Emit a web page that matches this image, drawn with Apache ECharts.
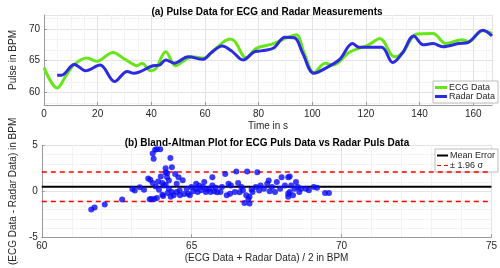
<!DOCTYPE html>
<html><head><meta charset="utf-8">
<script src="https://cdn.jsdelivr.net/npm/echarts@6/dist/echarts.min.js"></script>
<style>html,body{margin:0;padding:0;background:#fff}#c{width:500px;height:268px}</style>
</head><body><div id="c"></div>
<script>
// (a) Pulse data
const ecgTime  = [0,4.9,8.3,11.3,16,19.6,25.7,29.8,31.7,34.6,36.5,39.7,41.6,45.4,49,52.6,55,59.8,63.4,69.4,71.2,75.4,79,85,91,94,97,100.6,104.8,107.8,113.8,121,125.2,130.6,133.6,139,145,149.8,155.8,158.2,163.6,167];
const ecgPulse = [63.9,60.7,62.7,64.4,65.4,64.9,66.3,65.3,64.8,64.2,64.6,63.4,63.7,66.4,64.2,65.1,65.6,65.4,66.7,68.4,68.0,65.4,66.9,67.6,68.7,69.1,66.2,63.1,64.6,64.3,66.3,67.5,68.5,65.6,66.2,69.2,69.3,67.7,68.3,68.0,69.7,69.3];
const radarTime  = [4.9,6.5,11.3,15.5,20.9,26.3,31,33.5,40.6,43,45.4,48.5,53.8,59.2,62.2,66.4,70,74.2,78.4,80.2,85.6,89.8,93.4,96.4,100.6,105.4,110.2,115,117.4,125.8,130,133.6,137.8,141.4,145,148.6,154.6,158.2,163.6,167];
const radarPulse = [62.7,62.7,64.4,63.4,64.3,61.7,63.3,63.0,64.2,64.3,65.1,64.6,65.6,65.2,66.2,67.3,66.5,65.1,66.4,66.5,67.0,68.7,68.6,66.2,63.0,63.9,65.2,67.7,67.1,67.1,64.7,66.2,68.9,67.5,67.7,67.2,67.7,67.9,69.8,68.9];
const topXTicks = [0,20,40,60,80,100,120,140,160];
const topYTicks = [60,65,70];

// (b) Bland-Altman
const baMean = [61.65,61.76,62.1,62.68,63.02,63.1,63.27,63.41,63.62,63.65,63.7,63.73,63.78,63.84,63.95,63.7,63.75,63.8,63.84,63.88,63.91,63.97,64.02,64.02,64.07,64.13,64.13,64.13,64.18,64.18,64.2,64.24,64.24,64.29,64.34,64.34,64.4,64.45,64.5,64.5,64.56,64.61,64.7,64.83,64.88,64.94,64.99,65.15,65.15,65.2,65.31,65.37,65.42,65.47,65.58,65.69,65.69,65.63,65.8,65.96,66.01,66.12,66.17,66.23,66.28,66.31,66.44,66.49,66.66,66.71,66.76,66.82,66.85,66.89,66.93,66.93,67.03,67.14,67.19,67.3,67.41,67.52,67.57,67.68,67.78,67.84,67.95,68.0,68.11,68.22,68.27,68.27,68.22,68.22,68.32,68.38,68.43,68.48,68.54,68.59,68.65,68.81,68.91,69.07,69.18,69.45,69.58,63.55,63.6,64.05,64.3,64.6,64.75,65.05,65.25,65.5,65.75,65.85,66.55,66.6,67.0,67.25,67.6];
const baDiff = [-1.97,-1.75,-1.43,-0.9,0.26,0.1,0.45,0.18,1.26,-0.82,4.14,3.55,4.55,4.6,4.6,0.9,-0.82,0.54,-0.71,1.08,0.18,1.62,-0.36,0.9,0.65,2.52,2.05,0.72,1.98,1.55,-0.17,1.19,0.29,3.65,2.63,-0.07,-0.43,1.9,0.83,-0.07,1.55,-0.43,1.2,0.29,-0.25,-0.43,0.47,0.83,0.29,-0.07,0.11,0.47,1.01,-0.07,0.29,1.55,0.65,-0.07,0.4,-0.07,0.47,1.9,-0.43,0.83,-0.25,0.65,-0.07,2.16,0.47,0.11,-1.26,-0.43,2.16,-0.82,-1.33,-0.6,-0.07,0.47,2.09,0.65,0.29,0.83,1.19,0.47,-0.07,1.01,0.29,1.55,0.65,1.55,1.62,-0.07,-0.6,-0.25,0.65,-0.43,0.29,1.01,0.47,-0.07,0.29,0.29,0.11,0.47,0.4,-0.17,-0.17,1.4,-0.85,-0.5,-0.6,0.1,-0.3,0.0,0.6,0.2,0.0,-0.1,0.9,-0.1,0.2,0.1,0.0];
const meanError = 0.5;
const loaUpper = 2.12;
const loaLower = -1.11;
const baXRange = [60, 75];

const FONT = 'Liberation Sans';
const TXT = '#262626';
const ecgSeries = ecgTime.map((t, i) => [t, ecgPulse[i]]);
const radarSeries = radarTime.map((t, i) => [t, radarPulse[i]]);
const baSeries = baMean.map((m, i) => [m, baDiff[i]]);

function axisCommon(extra) {
  return Object.assign({
    axisLine: { show: true, onZero: false, lineStyle: { color: '#9a9a9a', width: 1 } },
    axisTick: { show: true, inside: true, length: 3, lineStyle: { color: '#9a9a9a' } },
    axisLabel: { color: TXT, fontFamily: FONT, fontSize: 10, margin: 4 },
    splitLine: { show: true, lineStyle: { color: '#e3e3e3', width: 1 } },
    minorTick: { show: false },
    minorSplitLine: { show: true, lineStyle: { color: '#f3f3f3', width: 1 } },
    nameLocation: 'middle',
    nameTextStyle: { color: TXT, fontFamily: FONT, fontSize: 10 }
  }, extra);
}

const chart = echarts.init(document.getElementById('c'), null, { renderer: 'canvas' });
chart.setOption({
  animation: false,
  backgroundColor: '#fff',
  title: [
    { text: '(a) Pulse Data for ECG and Radar Measurements', left: 262, top: 2, textAlign: 'center',
      textStyle: { fontFamily: FONT, fontSize: 10, fontWeight: 'bold', color: '#000' } },
    { text: '(b) Bland-Altman Plot for ECG Puls Data vs Radar Puls Data', left: 262, top: 133, textAlign: 'center',
      textStyle: { fontFamily: FONT, fontSize: 10, fontWeight: 'bold', color: '#000' } }
  ],
  grid: [
    { left: 27, right: 8, top: 15, bottom: 163 },
    { left: 27, right: 8, top: 145.5, bottom: 29.7 }
  ],
  xAxis: [
    axisCommon({ gridIndex: 0, type: 'value', min: 0, max: 167, splitNumber: 8, name: 'Time in s', nameGap: 16,
      minorTick: { show: false, splitNumber: 4 },
      axisLabel: { color: TXT, fontFamily: FONT, fontSize: 10, margin: 4, showMaxLabel: false,
        formatter: v => topXTicks.includes(v) ? String(v) : '' } }),
    axisCommon({ gridIndex: 1, type: 'value', min: baXRange[0], max: baXRange[1], interval: 5,
      name: '(ECG Data + Radar Data) / 2 in BPM', nameGap: 16,
      minorTick: { show: false, splitNumber: 5 } })
  ],
  yAxis: [
    axisCommon({ gridIndex: 0, type: 'value', min: 58, max: 72.2, splitNumber: 3, name: 'Pulse in BPM', nameGap: 14,
      minorTick: { show: false, splitNumber: 3 },
      axisLabel: { color: TXT, fontFamily: FONT, fontSize: 10, margin: 4, showMinLabel: false, showMaxLabel: false,
        formatter: v => topYTicks.includes(v) ? String(v) : '' } }),
    axisCommon({ gridIndex: 1, type: 'value', min: -5, max: 5, interval: 5,
      name: '(ECG Data - Radar Data) in BPM', nameGap: 14,
      minorTick: { show: false, splitNumber: 5 } })
  ],
  legend: [
    { data: ['ECG Data', 'Radar Data'], orient: 'vertical', left: 433, top: 81, width: 59,
      itemWidth: 12, itemHeight: 3, itemGap: 0, padding: [2, 3, 2, 2],
      backgroundColor: '#fff', borderColor: '#bdbdbd', borderWidth: 1,
      icon: 'rect', textStyle: { fontFamily: FONT, fontSize: 9, color: TXT, padding: [0, 0, 0, -3] } },
    { data: [
        { name: 'Mean Error', icon: 'rect' },
        { name: '± 1.96 σ', icon: 'path://M0 0H4V1H0Z M7 0H11V1H7Z' }
      ], orient: 'vertical', left: 435, top: 149, width: 56,
      itemWidth: 11, itemHeight: 2, itemGap: 1, padding: [2, 3, 2, 2],
      backgroundColor: '#fff', borderColor: '#bdbdbd', borderWidth: 1,
      textStyle: { fontFamily: FONT, fontSize: 9, color: TXT, padding: [0, 0, 0, -3] } }
  ],
  series: [
    { name: 'ECG Data', type: 'line', xAxisIndex: 0, yAxisIndex: 0, data: ecgSeries, smooth: 0.35,
      showSymbol: false, symbol: 'none', itemStyle: { color: '#66e619' },
      lineStyle: { color: '#66e619', width: 3 }, z: 3 },
    { name: 'Radar Data', type: 'line', xAxisIndex: 0, yAxisIndex: 0, data: radarSeries, smooth: 0.35,
      showSymbol: false, symbol: 'none', itemStyle: { color: '#2b2be0' },
      lineStyle: { color: '#2b2be0', width: 3 }, z: 4 },
    { name: 'BA', type: 'scatter', xAxisIndex: 1, yAxisIndex: 1, data: baSeries, symbolSize: 6,
      itemStyle: { color: '#0a0aff' }, z: 5 },
    { name: 'Mean Error', type: 'line', xAxisIndex: 1, yAxisIndex: 1,
      data: [[baXRange[0], meanError], [baXRange[1], meanError]], symbol: 'none', showSymbol: false,
      itemStyle: { color: '#000' }, lineStyle: { color: '#000', width: 2 }, z: 4 },
    { name: '± 1.96 σ', type: 'line', xAxisIndex: 1, yAxisIndex: 1,
      data: [[baXRange[0], loaUpper], [baXRange[1], loaUpper]], symbol: 'none', showSymbol: false,
      itemStyle: { color: '#ff0000' }, lineStyle: { color: '#ff0000', width: 1.5, type: [5, 4] }, z: 4 },
    { name: '± 1.96 σ', type: 'line', xAxisIndex: 1, yAxisIndex: 1,
      data: [[baXRange[0], loaLower], [baXRange[1], loaLower]], symbol: 'none', showSymbol: false,
      itemStyle: { color: '#ff0000' }, lineStyle: { color: '#ff0000', width: 1.5, type: [5, 4] }, z: 4 }
  ]
});
</script></body></html>
